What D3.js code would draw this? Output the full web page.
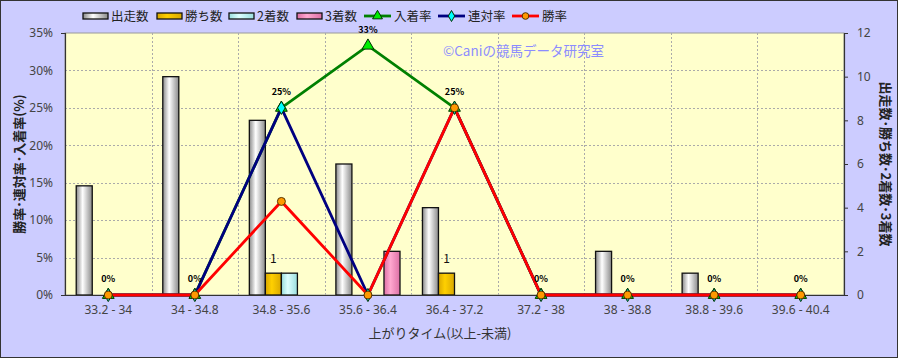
<!DOCTYPE html>
<html>
<head>
<meta charset="utf-8">
<script src="https://cdn.jsdelivr.net/npm/d3@7"></script>
<style>
	body { margin: 0; background: #fff; }
	svg text { font-family: "Noto Sans CJK JP", "Noto Sans", sans-serif; }
</style>
</head>
<body>
<div class="container"></div>
<script>
// data
var categories = ['33.2 - 34', '34 - 34.8', '34.8 - 35.6', '35.6 - 36.4', '36.4 - 37.2', '37.2 - 38', '38 - 38.8', '38.8 - 39.6', '39.6 - 40.4'];
var runs = [5, 10, 8, 6, 4, 0, 2, 1, 0];      // 出走数
var wins = [0, 0, 1, 0, 1, 0, 0, 0, 0];       // 勝ち数
var seconds = [0, 0, 1, 0, 0, 0, 0, 0, 0];    // 2着数
var thirds = [0, 0, 0, 2, 0, 0, 0, 0, 0];     // 3着数
var placeRate = [0, 0, 0.25, 0.333, 0.25, 0, 0, 0, 0];  // 入着率
var quinRate = [0, 0, 0.25, 0, 0.25, 0, 0, 0, 0];       // 連対率
var winRate = [0, 0, 0.125, 0, 0.25, 0, 0, 0, 0];       // 勝率
var leftTicks = [0, 0.05, 0.10, 0.15, 0.20, 0.25, 0.30, 0.35];
var rightTicks = [0, 2, 4, 6, 8, 10, 12];

var W = 898, H = 358;
// plot area (note: "top" is a reserved window property, so prefixed names)
var plotL = 65, plotR = 844, plotT = 33, plotB = 295;

var svg = d3.select('.container')
	.append('svg')
	.attr('width', W)
	.attr('height', H);

var defs = svg.append('defs');
function cylinder(id, edge, mid) {
	var g = defs.append('linearGradient').attr('id', id)
		.attr('x1', '0%').attr('x2', '100%').attr('y1', '0%').attr('y2', '0%');
	g.append('stop').attr('offset', '0%').attr('stop-color', edge);
	g.append('stop').attr('offset', '40%').attr('stop-color', mid);
	g.append('stop').attr('offset', '100%').attr('stop-color', edge);
}
cylinder('gRun', '#8a8a8a', '#ffffff');
cylinder('gWin', '#d9a800', '#ffd000');
cylinder('gSec', '#99dddd', '#ddffff');
cylinder('gThi', '#dd6fa5', '#ffa8d0');

// background
svg.append('rect')
	.attr('x', 0.5).attr('y', 0.5)
	.attr('width', W - 1).attr('height', H - 1)
	.attr('fill', '#ccccff')
	.attr('stroke', '#333');

svg.append('rect')
	.attr('x', plotL).attr('y', plotT)
	.attr('width', plotR - plotL).attr('height', plotB - plotT)
	.attr('fill', '#ffffcc')
	.attr('stroke', '#999');

var x = d3.scaleBand().domain(categories).range([plotL, plotR]).padding(0);
var yL = d3.scaleLinear().domain([0, 0.35]).range([plotB, plotT]);
var yR = d3.scaleLinear().domain([0, 12]).range([plotB, plotT]);

// grid
svg.append('g').selectAll('line')
	.data(leftTicks.slice(1, -1))
	.enter().append('line')
	.attr('x1', plotL).attr('x2', plotR)
	.attr('y1', d => Math.round(yL(d)) + 0.5).attr('y2', d => Math.round(yL(d)) + 0.5)
	.attr('stroke', '#aaa').attr('stroke-dasharray', '2,2');

svg.append('g').selectAll('line')
	.data(categories.slice(1))
	.enter().append('line')
	.attr('x1', d => Math.round(x(d)) + 0.5).attr('x2', d => Math.round(x(d)) + 0.5)
	.attr('y1', plotT).attr('y2', plotB)
	.attr('stroke', '#aaa').attr('stroke-dasharray', '2,2');

// bars
var inner = d3.scaleBand().domain(['run', 'win', 'sec', 'thi'])
	.range([0, x.bandwidth()]).paddingOuter(0.7).paddingInner(0);
var series = [
	{key: 'run', values: runs, fill: 'url(#gRun)'},
	{key: 'win', values: wins, fill: 'url(#gWin)'},
	{key: 'sec', values: seconds, fill: 'url(#gSec)'},
	{key: 'thi', values: thirds, fill: 'url(#gThi)'}
];
series.forEach(s => {
	svg.append('g').selectAll('rect')
		.data(s.values.map((v, i) => ({v: v, c: categories[i]})).filter(d => d.v > 0))
		.enter().append('rect')
		.attr('x', d => x(d.c) + inner(s.key))
		.attr('width', inner.bandwidth())
		.attr('y', d => yR(d.v))
		.attr('height', d => plotB - yR(d.v))
		.attr('fill', s.fill)
		.attr('stroke', '#111')
		.attr('stroke-width', 1.3);
});

// win count labels
svg.append('g').selectAll('text')
	.data(wins.map((v, i) => ({v: v, c: categories[i]})).filter(d => d.v > 0))
	.enter().append('text')
	.attr('x', d => x(d.c) + inner('win') + inner.bandwidth() / 2)
	.attr('y', d => yR(d.v) - 10)
	.attr('text-anchor', 'middle')
	.attr('font-size', 12)
	.attr('fill', '#111')
	.text(d => d.v);

// axes
var axL = svg.append('g').attr('transform', 'translate(' + plotL + ',0)')
	.call(d3.axisLeft(yL).tickValues(leftTicks).tickFormat(d3.format('.0%')).tickSize(4).tickPadding(8));
var axR = svg.append('g').attr('transform', 'translate(' + plotR + ',0)')
	.call(d3.axisRight(yR).tickValues(rightTicks).tickSize(4).tickPadding(9));
var axB = svg.append('g').attr('transform', 'translate(0,' + plotB + ')')
	.call(d3.axisBottom(x).tickSize(0).tickPadding(10));
[axL, axR, axB].forEach(a => {
	a.select('.domain').attr('stroke', '#333').attr('stroke-width', 1.2);
	a.selectAll('.tick line').attr('stroke', '#333');
	a.selectAll('text').attr('font-size', 12).attr('fill', '#444')
		.style('font-family', '"Noto Sans", sans-serif');
});
axL.selectAll('.tick line').remove();

// lines
var lineSeries = [
	{name: '入着率', values: placeRate, color: '#008000', marker: 'triangle', mfill: '#00ee00'},
	{name: '連対率', values: quinRate, color: '#000080', marker: 'diamond', mfill: '#00ffff'},
	{name: '勝率', values: winRate, color: '#ff0000', marker: 'circle', mfill: '#ff9900'}
];
var line = d3.line()
	.x((d, i) => x(categories[i]) + x.bandwidth() / 2)
	.y(d => yL(d));
var symbolOf = {triangle: d3.symbolTriangle, diamond: d3.symbolDiamond, circle: d3.symbolCircle};
var sizeOf = {triangle: 60, diamond: 50, circle: 50};

lineSeries.forEach(s => {
	svg.append('path')
		.datum(s.values)
		.attr('d', line)
		.attr('fill', 'none')
		.attr('stroke', s.color)
		.attr('stroke-width', 2.8);
});
lineSeries.forEach(s => {
	svg.append('g').selectAll('path')
		.data(s.values)
		.enter().append('path')
		.attr('transform', (d, i) => 'translate(' + (x(categories[i]) + x.bandwidth() / 2) + ',' + yL(d) + ')')
		.attr('d', d3.symbol().type(symbolOf[s.marker]).size(sizeOf[s.marker]))
		.attr('fill', s.mfill)
		.attr('stroke', s.marker === 'circle' ? '#553300' : '#003300')
		.attr('stroke-width', 1);
});

// 入着率 labels
svg.append('g').selectAll('text')
	.data(placeRate)
	.enter().append('text')
	.attr('x', (d, i) => x(categories[i]) + x.bandwidth() / 2)
	.attr('y', d => yL(d) - 13)
	.attr('text-anchor', 'middle')
	.attr('font-size', 9)
	.attr('font-weight', 'bold')
	.attr('fill', '#000')
	.text(d => Math.round(d * 100) + '%');

// axis titles
svg.append('text')
	.attr('transform', 'translate(24,' + ((plotT + plotB) / 2) + ') rotate(-90)')
	.attr('text-anchor', 'middle')
	.attr('font-size', 13)
	.attr('font-weight', 'bold')
	.attr('fill', '#222')
	.text('勝率･連対率･入着率(%)');
svg.append('text')
	.attr('transform', 'translate(881,' + ((plotT + plotB) / 2) + ') rotate(90)')
	.attr('text-anchor', 'middle')
	.attr('font-size', 13)
	.attr('font-weight', 'bold')
	.attr('fill', '#222')
	.text('出走数･勝ち数･2着数･3着数');
svg.append('text')
	.attr('x', 440).attr('y', 338)
	.attr('text-anchor', 'middle')
	.attr('font-size', 13)
	.attr('fill', '#333')
	.text('上がりタイム(以上-未満)');

// watermark
svg.append('text')
	.attr('x', 443).attr('y', 56)
	.attr('font-size', 13.5)
	.attr('fill', '#8c8cff')
	.text('©Caniの競馬データ研究室');

// legend
var legendBars = [
	{name: '出走数', fill: 'url(#gRun)', x: 83},
	{name: '勝ち数', fill: 'url(#gWin)', x: 157},
	{name: '2着数', fill: 'url(#gSec)', x: 229},
	{name: '3着数', fill: 'url(#gThi)', x: 297}
];
legendBars.forEach(l => {
	svg.append('rect')
		.attr('x', l.x).attr('y', 13)
		.attr('width', 25).attr('height', 6)
		.attr('fill', l.fill)
		.attr('stroke', '#111').attr('stroke-width', 1.3);
	svg.append('text')
		.attr('x', l.x + 28).attr('y', 21)
		.attr('font-size', 12.5).attr('fill', '#222')
		.text(l.name);
});
var legendLineX = [364, 438, 512];
lineSeries.forEach((s, i) => {
	var lx = legendLineX[i];
	svg.append('line')
		.attr('x1', lx).attr('x2', lx + 27)
		.attr('y1', 16).attr('y2', 16)
		.attr('stroke', s.color).attr('stroke-width', 2.8);
	svg.append('path')
		.attr('transform', 'translate(' + (lx + 13.5) + ',16)')
		.attr('d', d3.symbol().type(symbolOf[s.marker]).size(sizeOf[s.marker] * 0.7))
		.attr('fill', s.mfill)
		.attr('stroke', s.marker === 'circle' ? '#553300' : '#003300');
	svg.append('text')
		.attr('x', lx + 30).attr('y', 21)
		.attr('font-size', 12.5).attr('fill', '#222')
		.text(s.name);
});
</script>
</body>
</html>
